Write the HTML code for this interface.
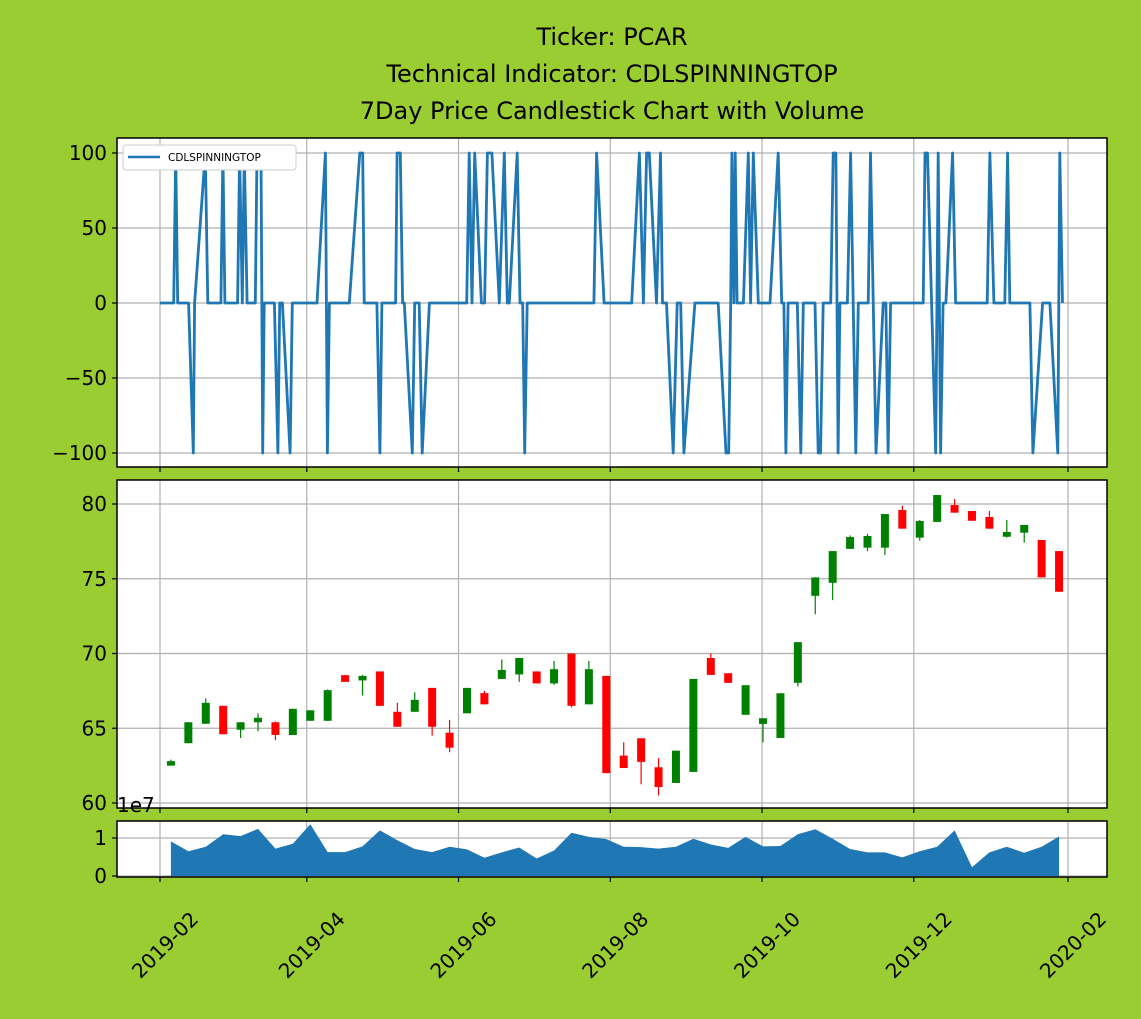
<!DOCTYPE html>
<html><head><meta charset="utf-8"><style>
body{margin:0;background:#9acd32;}
svg{display:block;font-family:"DejaVu Sans","Liberation Sans",sans-serif;}
</style></head><body>
<svg id="chart" width="1141" height="1019" viewBox="0 0 1141 1019" xmlns="http://www.w3.org/2000/svg">
<rect width="1141" height="1019" fill="#9acd32"/>
<g font-size="24" text-anchor="middle" fill="#000">
<text x="612" y="45">Ticker: PCAR</text>
<text x="612" y="82">Technical Indicator: CDLSPINNINGTOP</text>
<text x="612" y="119">7Day Price Candlestick Chart with Volume</text>
</g>
<g id="g-ind"></g>
<g id="g-price"></g>
<g id="g-vol"></g>
<g id="g-x"></g>
</svg>
<script>
// ---------- data ----------
const indDays = [0,5.5,6.3,7.1,11.5,13.4,13.9,18.2,19.2,24.5,25.3,26.1,31.2,32.0,33.1,33.9,35.0,38.3,39.0,40.6,41.3,41.9,46.0,47.4,48.1,49.2,52.3,53.2,63.1,66.5,67.3,68.1,76.1,80.3,81.5,82.1,87.2,88.4,89.2,94.7,95.3,96.6,97.5,98.2,101.4,102.4,104.2,105.4,108.3,123.3,124.3,125.4,126.5,129.2,130.5,131.6,133.4,136.4,138.4,139.6,140.4,143.6,144.7,145.8,146.6,147.6,174.4,175.5,178.5,189.6,192.7,194.3,195.6,196.7,199.6,201.2,202.0,203.6,206.3,207.9,209.3,210.6,215.0,224.4,227.5,228.6,229.4,229.9,230.7,231.2,232.0,234.5,236.5,237.4,238.5,240.5,245.2,248.5,249.9,250.8,251.6,252.5,256.2,257.6,258.6,263.3,264.6,265.5,266.6,269.6,270.6,271.7,272.6,273.3,276.3,277.6,279.7,280.7,284.7,285.6,287.8,290.7,291.8,292.7,293.7,306.8,307.5,308.5,311.8,312.8,313.8,314.8,315.9,318.6,319.8,332.5,333.6,335.2,339.6,340.7,341.6,349.7,350.9,354.8,357.7,360.9,361.7,362.8];
const indValues = [0,0,100,0,0,-100,0,100,0,0,100,0,0,100,0,100,0,0,100,100,-100,0,0,-100,0,0,-100,0,0,100,-100,0,0,100,100,0,0,-100,0,0,100,100,0,0,-100,0,0,-100,0,0,100,0,100,0,0,100,100,0,100,0,0,100,0,0,-100,0,0,100,0,0,100,0,100,100,0,100,0,0,-100,0,0,-100,0,0,-100,-100,0,100,0,100,0,0,100,0,100,0,0,100,0,0,-100,0,0,-100,0,0,-100,-100,0,0,100,100,-100,0,0,100,-100,0,0,100,-100,0,0,-100,0,0,100,100,-100,100,-100,0,0,100,0,0,100,0,0,100,0,0,-100,0,0,-100,100,0];
const candleStartDay = 4.4; // days after 2019-02-01
const candleStepDays = 7;
const opens  = [62.5,64.0,65.3,66.5,64.9,65.4,65.4,64.55,65.5,65.5,68.55,68.2,68.8,66.1,66.1,67.7,64.7,66.0,67.35,68.3,68.6,68.8,68.0,70.0,66.6,68.5,63.17,64.33,62.39,61.34,62.08,69.7,68.68,65.9,65.29,64.35,68.04,73.86,74.73,77.0,77.08,77.08,79.6,77.75,78.8,79.93,79.53,79.13,77.81,78.08,77.59,76.85];
const closes = [62.8,65.4,66.7,64.6,65.4,65.7,64.55,66.3,66.2,67.55,68.1,68.5,66.5,65.1,66.9,65.1,63.7,67.7,66.6,68.9,69.7,68.0,68.95,66.5,68.95,62.0,62.34,62.75,61.07,63.5,68.3,68.57,68.04,67.88,65.67,67.34,70.76,75.09,76.85,77.79,77.86,79.33,78.35,78.86,80.6,79.42,78.88,78.35,78.13,78.6,75.09,74.13];
const highs  = [62.9,65.4,67.0,66.5,65.4,66.0,65.45,66.3,66.2,67.6,68.55,68.57,68.8,66.7,67.4,67.7,65.56,67.7,67.5,69.6,69.7,68.8,69.5,70.0,69.5,68.5,64.06,64.33,63.0,63.5,68.3,70.0,68.68,67.88,65.67,67.34,70.76,75.09,76.85,77.9,78.0,79.33,79.89,78.93,80.6,80.33,79.53,79.53,78.93,78.6,77.59,76.85];
const lows   = [62.5,64.0,65.3,64.6,64.35,64.8,64.2,64.55,65.5,65.5,68.1,67.2,66.5,65.1,66.1,64.5,63.4,66.0,66.6,68.3,68.1,68.0,67.9,66.4,66.6,62.0,62.34,61.25,60.5,61.34,62.08,68.57,68.04,65.9,64.06,64.35,67.8,72.63,73.57,77.0,76.85,76.58,78.35,77.54,78.8,79.42,78.88,78.35,77.75,77.41,75.09,74.13];
const volumes = [0.91,0.65,0.77,1.10,1.05,1.24,0.72,0.85,1.36,0.63,0.63,0.78,1.20,0.94,0.71,0.63,0.77,0.70,0.48,0.62,0.75,0.46,0.67,1.14,1.03,0.97,0.77,0.76,0.72,0.77,0.98,0.83,0.74,1.03,0.78,0.79,1.10,1.23,0.98,0.71,0.62,0.62,0.49,0.65,0.77,1.20,0.23,0.62,0.77,0.61,0.77,1.04];
const xTickLabels = ["2019-02","2019-04","2019-06","2019-08","2019-10","2019-12","2020-02"];
const xTickDays = [0,59,120,181,242,303,365];
const indTicks = [100,50,0,-50,-100];
const priceTicks = [80,75,70,65,60];
const volTicks = [1,0];

// ---------- scales ----------
const L=117,R=1107;
const xs = d => 160 + d*2.4877;
const yInd = v => 303 - v*1.5;
const yPrice = p => 504 + (80-p)*14.95;
const yVol = v => 876 - v*38;
const NS="http://www.w3.org/2000/svg";
function mk(tag, attrs, parent){const e=document.createElementNS(NS,tag);for(const k in attrs)e.setAttribute(k,attrs[k]);parent.appendChild(e);return e;}
const fmt = v => (v<0?"\u2212"+(-v):""+v);

function panel(g, top, bot, ticks, yf, nameBase){
  const bg = mk('rect',{x:L,y:top,width:R-L,height:bot-top,fill:'#fff'},g);
  
  
  xTickDays.forEach(d=>{const l=mk('line',{x1:xs(d),x2:xs(d),y1:top,y2:bot,stroke:'#b0b0b0','stroke-width':1.2},g);
    
    
    const t=mk('line',{x1:xs(d),x2:xs(d),y1:bot,y2:bot+5,stroke:'#000','stroke-width':1.2},g);
    
    });
  ticks.forEach(v=>{const y=yf(v);
    const l=mk('line',{x1:L,x2:R,y1:y,y2:y,stroke:'#b0b0b0','stroke-width':1.2},g);
    
    
    const t=mk('line',{x1:L-5,x2:L,y1:y,y2:y,stroke:'#000','stroke-width':1.2},g);
    
    
    const tx=mk('text',{x:L-10,y:y+7,'font-size':20,'text-anchor':'end',fill:'#000'},g);
    tx.textContent=fmt(v);
    
    });
}
function frame(g, top, bot, name){
  const f=mk('rect',{x:L,y:top,width:R-L,height:bot-top,fill:'none',stroke:'#000','stroke-width':1.5},g);
  
  
}

// indicator panel
const gi=document.getElementById('g-ind');
panel(gi,138,467,indTicks,yInd,'indicator');
const pts = indDays.map((d,i)=>xs(d).toFixed(1)+','+yInd(indValues[i]).toFixed(1)).join(' ');
const pl=mk('polyline',{points:pts,fill:'none',stroke:'#1f77b4','stroke-width':2.8,'stroke-linejoin':'round'},gi);


frame(gi,138,467,'indicator');
const lg=mk('g',{},gi);


mk('rect',{x:123,y:145,width:173,height:25,rx:3,fill:'#fff',stroke:'#ccc','stroke-width':1},lg);
const ll=mk('line',{x1:128,x2:160,y1:157,y2:157,stroke:'#1f77b4','stroke-width':2.6},lg);


const lt=mk('text',{x:168,y:161,'font-size':10.5,fill:'#000'},lg);
lt.textContent='CDLSPINNINGTOP';



// price panel
const gp=document.getElementById('g-price');
panel(gp,480,808,priceTicks,yPrice,'price');
opens.forEach((o,i)=>{
  const c=closes[i], d=candleStartDay+i*candleStepDays, x=xs(d);
  const col = c>=o ? '#008000' : '#ff0000';
  const w=mk('line',{x1:x,x2:x,y1:yPrice(highs[i]),y2:yPrice(lows[i]),stroke:col,'stroke-width':1.2},gp);
  
  
  const top=yPrice(Math.max(o,c)), bot=yPrice(Math.min(o,c));
  const b=mk('rect',{x:x-4,y:top,width:8,height:Math.max(bot-top,1),fill:col},gp);
  
  
});
frame(gp,480,808,'price');

// volume panel
const gv=document.getElementById('g-vol');
panel(gv,821,877,volTicks,yVol,'volume');
let vp = volumes.map((v,i)=>xs(candleStartDay+i*candleStepDays).toFixed(1)+','+yVol(v).toFixed(1));
vp.push(xs(candleStartDay+(volumes.length-1)*candleStepDays).toFixed(1)+','+yVol(0));
vp.push(xs(candleStartDay).toFixed(1)+','+yVol(0));
const va=mk('polygon',{points:vp.join(' '),fill:'#1f77b4'},gv);


frame(gv,821,877,'volume');
const oe=mk('text',{x:117,y:812,'font-size':20,fill:'#000'},gv);
oe.textContent='1e7';



// x labels
const gx=document.getElementById('g-x');
xTickLabels.forEach((s,i)=>{
  const x=xs(xTickDays[i])+5;
  const t=mk('text',{x:x,y:952,'font-size':20,'text-anchor':'middle',fill:'#000',transform:`rotate(-45 ${x} 945)`},gx);
  t.textContent=s;
  
  
});
</script>
</body></html>
